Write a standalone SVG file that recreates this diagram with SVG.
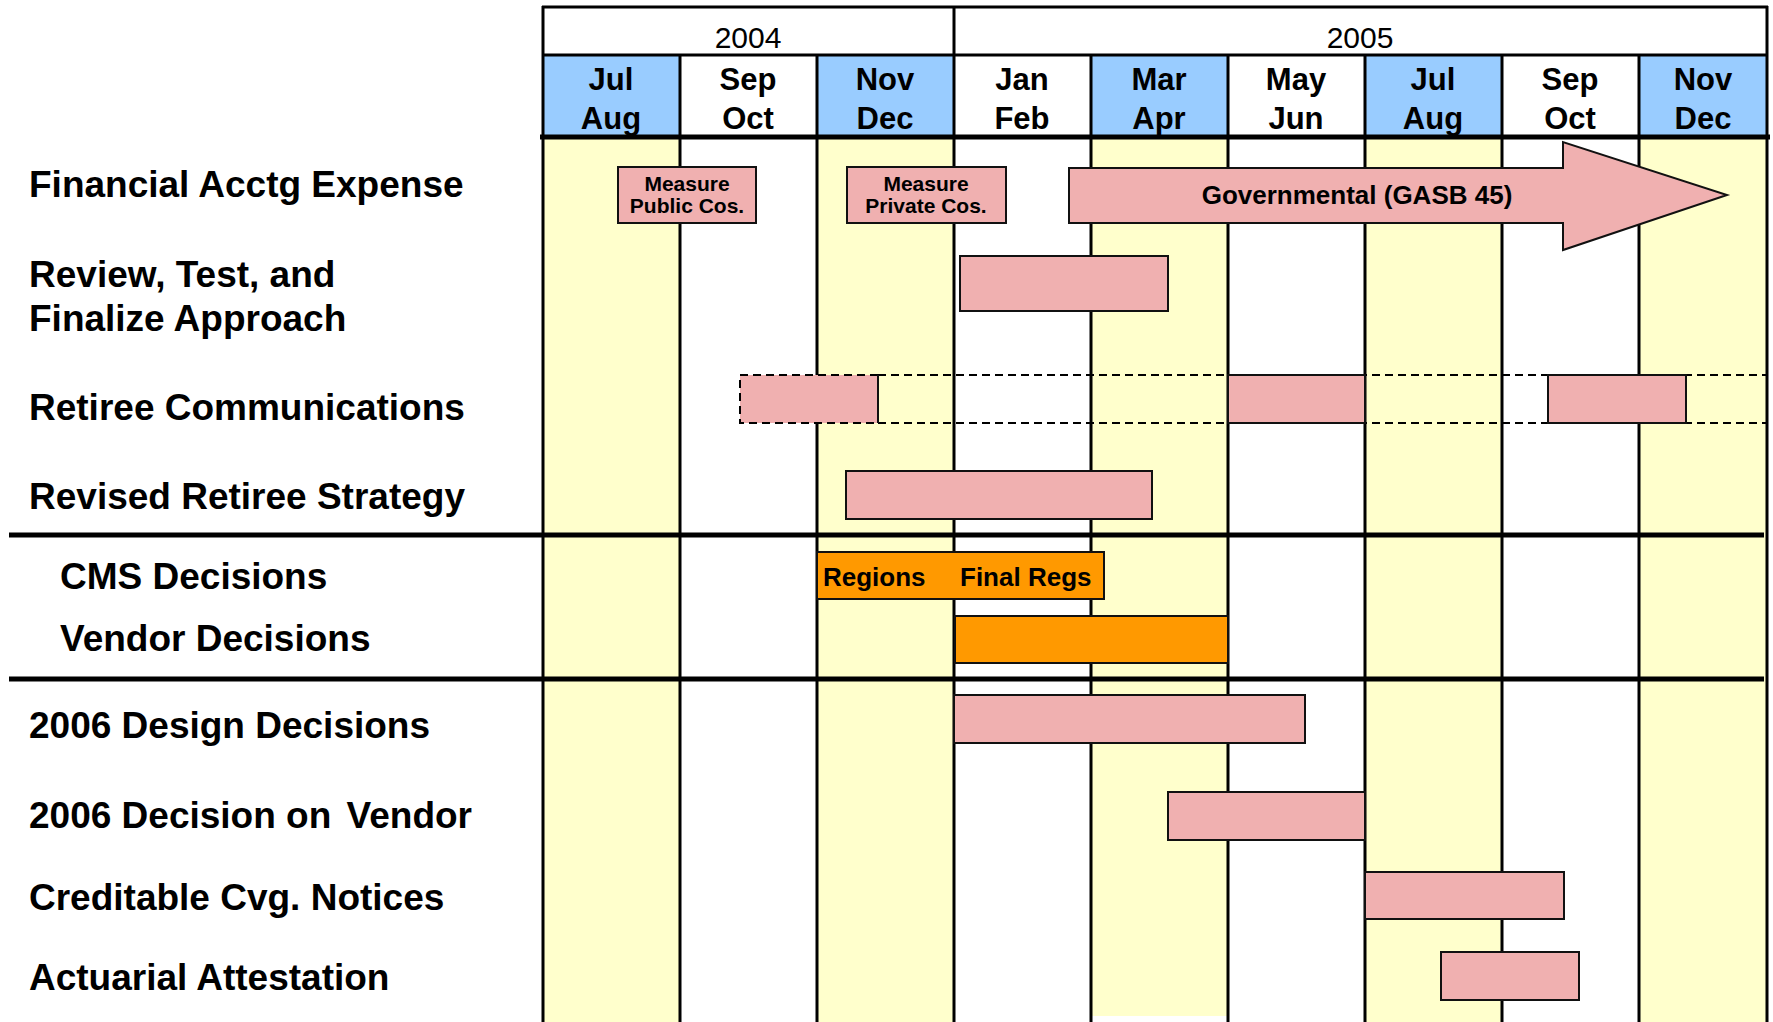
<svg xmlns="http://www.w3.org/2000/svg" width="1773" height="1022" viewBox="0 0 1773 1022">
<style>
.lbl{font-family:"Liberation Sans",Arial,sans-serif;font-weight:bold;font-size:37px;fill:#000}
.mon{font-family:"Liberation Sans",Arial,sans-serif;font-weight:bold;font-size:31px;fill:#000;text-anchor:middle}
.yr{font-family:"Liberation Sans",Arial,sans-serif;font-size:30px;fill:#000;text-anchor:middle}
.sm{font-family:"Liberation Sans",Arial,sans-serif;font-weight:bold;font-size:21px;fill:#000;text-anchor:middle}
.bt{font-family:"Liberation Sans",Arial,sans-serif;font-weight:bold;font-size:26px;fill:#000}
.yel{fill:#FFFFCC}
.blu{fill:#99CCFF}
.bar{fill:#F0B0B0;stroke:#111;stroke-width:2}
.org{fill:#FF9900;stroke:#111;stroke-width:2}
.vl{stroke:#000;stroke-width:3}
.thick{stroke:#000;stroke-width:5}
.dash{stroke:#000;stroke-width:2;stroke-dasharray:8 5;fill:none}
</style>
<rect width="1773" height="1022" fill="#fff"/>
<g id="grid">
<rect class="yel" x="543" y="137" width="137" height="885"/>
<rect class="yel" x="817" y="137" width="137" height="885"/>
<rect class="yel" x="1091" y="137" width="137" height="879"/>
<rect class="yel" x="1365" y="137" width="137" height="885"/>
<rect class="yel" x="1639" y="137" width="128" height="885"/>
<rect class="blu" x="543" y="55" width="137" height="82"/>
<rect class="blu" x="817" y="55" width="137" height="82"/>
<rect class="blu" x="1091" y="55" width="137" height="82"/>
<rect class="blu" x="1365" y="55" width="137" height="82"/>
<rect class="blu" x="1639" y="55" width="128" height="82"/>
<line class="vl" x1="543" y1="6" x2="543" y2="1022"/>
<line class="vl" x1="680" y1="55" x2="680" y2="1022"/>
<line class="vl" x1="817" y1="55" x2="817" y2="1022"/>
<line class="vl" x1="954" y1="6" x2="954" y2="1022"/>
<line class="vl" x1="1091" y1="55" x2="1091" y2="1022"/>
<line class="vl" x1="1228" y1="55" x2="1228" y2="1022"/>
<line class="vl" x1="1365" y1="55" x2="1365" y2="1022"/>
<line class="vl" x1="1502" y1="55" x2="1502" y2="1022"/>
<line class="vl" x1="1639" y1="55" x2="1639" y2="1022"/>
<line class="vl" x1="1767" y1="6" x2="1767" y2="1022"/>
<line class="vl" x1="542" y1="7" x2="1768" y2="7"/>
<line class="vl" x1="542" y1="55" x2="1768" y2="55"/>
<line class="thick" x1="540" y1="137" x2="1770" y2="137"/>
<text class="yr" x="748" y="48">2004</text>
<text class="yr" x="1360" y="48">2005</text>
<text class="mon" x="611" y="90">Jul</text><text class="mon" x="611" y="129">Aug</text>
<text class="mon" x="748" y="90">Sep</text><text class="mon" x="748" y="129">Oct</text>
<text class="mon" x="885" y="90">Nov</text><text class="mon" x="885" y="129">Dec</text>
<text class="mon" x="1022" y="90">Jan</text><text class="mon" x="1022" y="129">Feb</text>
<text class="mon" x="1159" y="90">Mar</text><text class="mon" x="1159" y="129">Apr</text>
<text class="mon" x="1296" y="90">May</text><text class="mon" x="1296" y="129">Jun</text>
<text class="mon" x="1433" y="90">Jul</text><text class="mon" x="1433" y="129">Aug</text>
<text class="mon" x="1570" y="90">Sep</text><text class="mon" x="1570" y="129">Oct</text>
<text class="mon" x="1703" y="90">Nov</text><text class="mon" x="1703" y="129">Dec</text>
<line class="thick" x1="9" y1="535" x2="1764" y2="535"/>
<line class="thick" x1="9" y1="679" x2="1764" y2="679"/>
</g>
<g id="labels">
<text id="lbl-fin" class="lbl" x="29" y="197">Financial Acctg Expense</text>
<text id="lbl-review" class="lbl" x="29" y="287">Review, Test, and</text>
<text id="lbl-review2" class="lbl" x="29" y="331">Finalize Approach</text>
<text id="lbl-comm" class="lbl" x="29" y="420">Retiree Communications</text>
<text id="lbl-strat" class="lbl" x="29" y="509">Revised Retiree Strategy</text>
<text id="lbl-cms" class="lbl" x="60" y="589">CMS Decisions</text>
<text id="lbl-vend" class="lbl" x="60" y="651">Vendor Decisions</text>
<text id="lbl-design" class="lbl" x="29" y="738">2006 Design Decisions</text>
<text id="lbl-decvend" class="lbl" x="29" y="828">2006 Decision on <tspan dx="5">Vendor</tspan></text>
<text id="lbl-cred" class="lbl" x="29" y="910">Creditable Cvg. Notices</text>
<text id="lbl-act" class="lbl" x="29" y="990">Actuarial Attestation</text>
</g>
<g id="connectors">
<path class="dash" d="M878 375 H1767 M878 423 H1767"/>
</g>
<g id="bar-public">
<rect class="bar" x="618" y="167" width="138" height="56"/>
<text class="sm" x="687" y="191">Measure</text>
<text class="sm" x="687" y="213">Public Cos.</text>
</g>
<g id="bar-private">
<rect class="bar" x="847" y="167" width="159" height="56"/>
<text class="sm" x="926" y="191">Measure</text>
<text class="sm" x="926" y="213">Private Cos.</text>
</g>
<g id="bar-gasb">
<polygon class="bar" points="1069,168 1563,168 1563,142 1727,195 1563,250 1563,223 1069,223"/>
<text class="bt" x="1357" y="204" text-anchor="middle">Governmental (GASB 45)</text>
</g>
<g id="bar-review">
<rect class="bar" x="960" y="256" width="208" height="55"/>
</g>
<g id="bar-comm">
<rect x="740" y="375" width="138" height="48" fill="#F0B0B0"/>
<path class="dash" d="M878 375 H740 V423 H878"/>
<line x1="878" y1="375" x2="878" y2="423" stroke="#111" stroke-width="2"/>
<rect class="bar" x="1228" y="375" width="137" height="48"/>
<rect class="bar" x="1548" y="375" width="138" height="48"/>
</g>
<g id="bar-strategy">
<rect class="bar" x="846" y="471" width="306" height="48"/>
</g>
<g id="bar-cms">
<rect class="org" x="817" y="552" width="287" height="47"/>
<text class="bt" x="823" y="586">Regions</text>
<text class="bt" x="960" y="586">Final Regs</text>
</g>
<g id="bar-vendor">
<rect class="org" x="955" y="616" width="273" height="47"/>
</g>
<g id="bar-design">
<rect class="bar" x="954" y="695" width="351" height="48"/>
</g>
<g id="bar-decvend">
<rect class="bar" x="1168" y="792" width="197" height="48"/>
</g>
<g id="bar-cred">
<rect class="bar" x="1365" y="872" width="199" height="47"/>
</g>
<g id="bar-act">
<rect class="bar" x="1441" y="952" width="138" height="48"/>
</g>
</svg>
